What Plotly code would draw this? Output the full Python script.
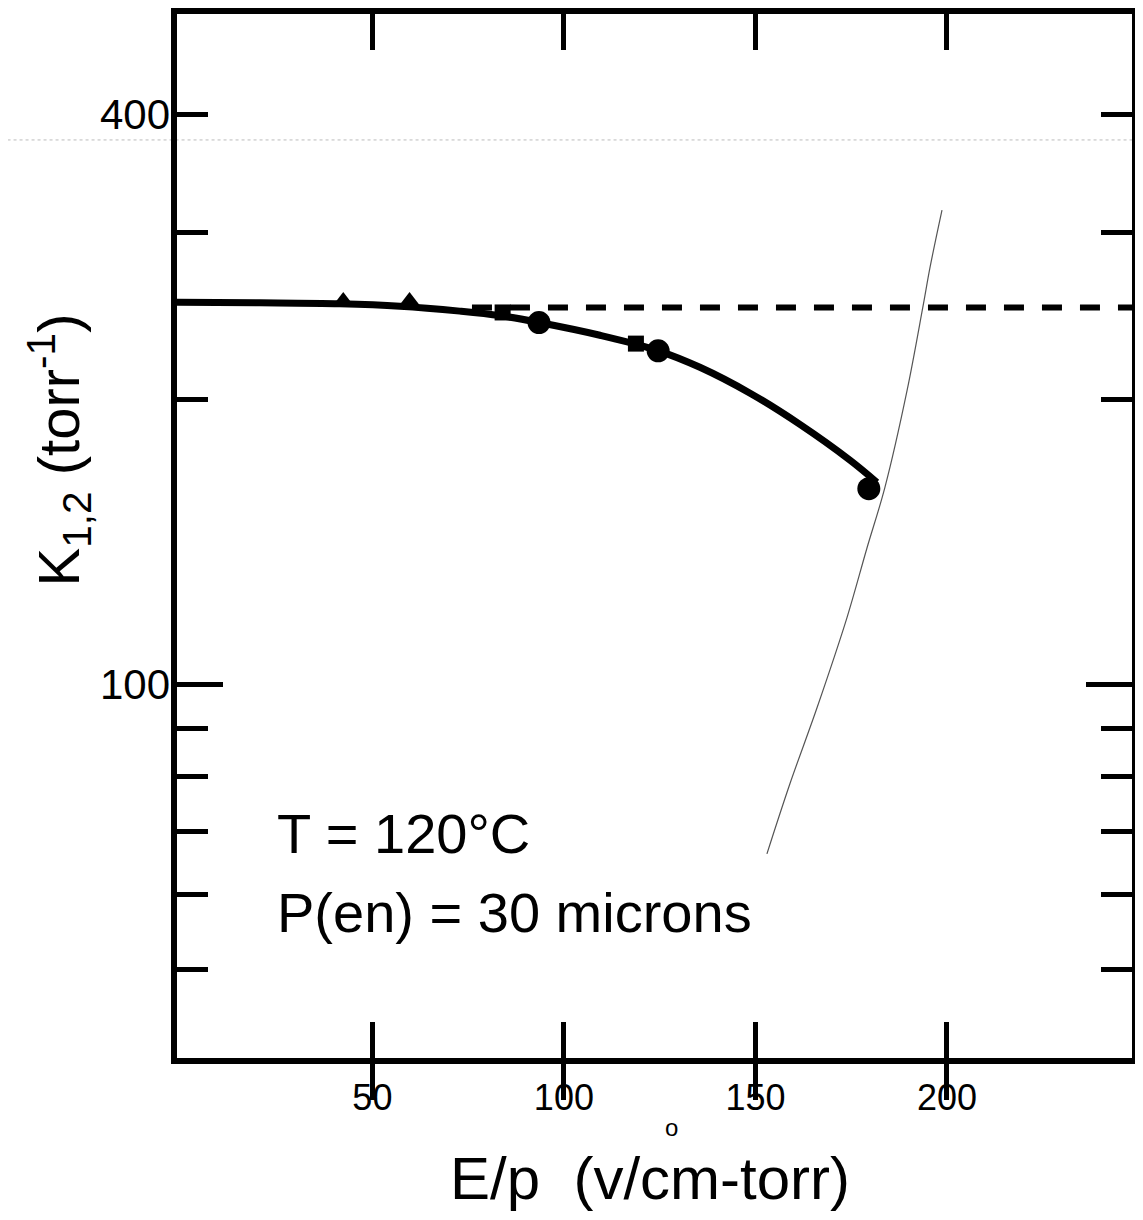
import plotly.graph_objects as go

# ---- data ----
tri_x = [42.4, 59.7]
tri_y = [254, 254]
sq_x = [84.0, 118.8]
sq_y = [247, 229]
circ_x = [93.5, 124.6, 179.6]
circ_y = [241, 225, 161]

curve_x = [-1.04, 20.6, 41.5, 57.2, 72.8, 83.3, 93.2, 109.4, 124.3, 135.5, 148.6, 161.6, 174.7, 181.7]
curve_y = [253.2, 252.9, 252.3, 250.8, 247.8, 245.1, 241.2, 233.7, 225.3, 216.2, 203.0, 188.2, 172.5, 163.5]

dash_x = [76.0, 248.3]
dash_y = [250, 250]

faint_x = [198.7, 195.6, 193.7, 189.6, 183.8, 179.1, 173.9, 166.1, 159.0, 153.0]
faint_y = [316.7, 275.9, 250.2, 204.5, 161.5, 139.3, 117.7, 94.6, 78.6, 66.3]

x_ticks = [50, 100, 150, 200]
y_ticks = [50, 60, 70, 80, 90, 100, 200, 300, 400]
y_major = [100]
y_labels = [100, 400]

X_RANGE = [-1.0, 248.3]
Y_RANGE = [1.6061, 2.7076]

FONT = "Liberation Sans"

fig = go.Figure()

fig.add_trace(go.Scatter(x=faint_x, y=faint_y, mode="lines",
                         line=dict(color="#555555", width=1.2, shape="spline"),
                         showlegend=False, hoverinfo="skip"))
fig.add_trace(go.Scatter(x=dash_x, y=dash_y, mode="lines",
                         line=dict(color="black", width=6, dash="20px,18px"),
                         showlegend=False))
fig.add_trace(go.Scatter(x=curve_x, y=curve_y, mode="lines",
                         line=dict(color="black", width=7, shape="spline", smoothing=1.0),
                         showlegend=False))
# markers drawn on overlaid y axes (identical ranges) so those axes get rendered
fig.add_trace(go.Scatter(x=tri_x, y=tri_y, mode="markers", yaxis="y2",
                         marker=dict(symbol="triangle-up", size=18, color="black"),
                         showlegend=False))
fig.add_trace(go.Scatter(x=sq_x, y=sq_y, mode="markers", yaxis="y3",
                         marker=dict(symbol="square", size=16, color="black"),
                         showlegend=False))
fig.add_trace(go.Scatter(x=circ_x, y=circ_y, mode="markers", yaxis="y3",
                         marker=dict(symbol="circle", size=23, color="black"),
                         showlegend=False))

common_y = dict(type="log", range=Y_RANGE, showgrid=False, zeroline=False, automargin=False)

# the page body adds an 8px margin; the figure is sized so the page does not overflow
fig.update_layout(
    width=1127, height=1204,
    margin=dict(l=169, r=3, t=6, b=154, autoexpand=False),
    paper_bgcolor="white", plot_bgcolor="white",
    font=dict(family=FONT, color="black"),
    xaxis=dict(range=X_RANGE, showline=True, linewidth=6, linecolor="black",
               mirror="allticks", ticks="inside", ticklen=36, tickwidth=5,
               tickcolor="black", tickvals=x_ticks,
               tickfont=dict(size=36, family=FONT, color="black"),
               ticklabelstandoff=3, showgrid=False, zeroline=False, automargin=False),
    yaxis=dict(**common_y, showline=True, linewidth=6, linecolor="black",
               mirror="allticks", ticks="inside", ticklen=31, tickwidth=5,
               tickcolor="black", tickvals=y_ticks, showticklabels=False),
    yaxis2=dict(**common_y, overlaying="y", anchor="x", side="left",
                showline=False, mirror="allticks", ticks="inside", ticklen=46, tickwidth=5,
                tickcolor="black", tickvals=y_major, showticklabels=False),
    yaxis3=dict(**common_y, overlaying="y", anchor="x", side="left",
                showline=False, ticks="", tickvals=y_labels,
                tickfont=dict(size=42, family=FONT, color="black"),
                ticklabelstandoff=6),
)

# faint scan line across the page
fig.add_shape(type="line", xref="paper", yref="y", x0=-0.19, x1=1.0, y0=375.6, y1=375.6,
              line=dict(color="#bbbbbb", width=1, dash="dot"), layer="below")

# paper coords relative to the plot area (x: 177..1132 px, y: 14..1058 px on screen)
ann = [
    dict(text="T = 120°C", x=0.1026, y=0.2155, xanchor="left", yanchor="middle", size=56),
    dict(text="P(en) = 30 microns", x=0.1026, y=0.1398, xanchor="left", yanchor="middle", size=56),
    dict(text="E/p  (v/cm-torr)", x=0.495, y=-0.1150, xanchor="center", yanchor="middle", size=60),
    dict(text="o", x=0.518, y=-0.0665, xanchor="center", yanchor="middle", size=24),
]
for a in ann:
    fig.add_annotation(text=a["text"], x=a["x"], y=a["y"], xref="paper", yref="paper",
                       xanchor=a["xanchor"], yanchor=a["yanchor"], showarrow=False,
                       font=dict(size=a["size"], family=FONT, color="black"))

fig.add_annotation(text="K<sub>1,2</sub> (torr<sup>-1</sup>)", x=-0.123, y=0.5824,
                   xref="paper", yref="paper", xanchor="center", yanchor="middle",
                   textangle=-90, showarrow=False,
                   font=dict(size=58, family=FONT, color="black"))

fig.write_html("out.html")
